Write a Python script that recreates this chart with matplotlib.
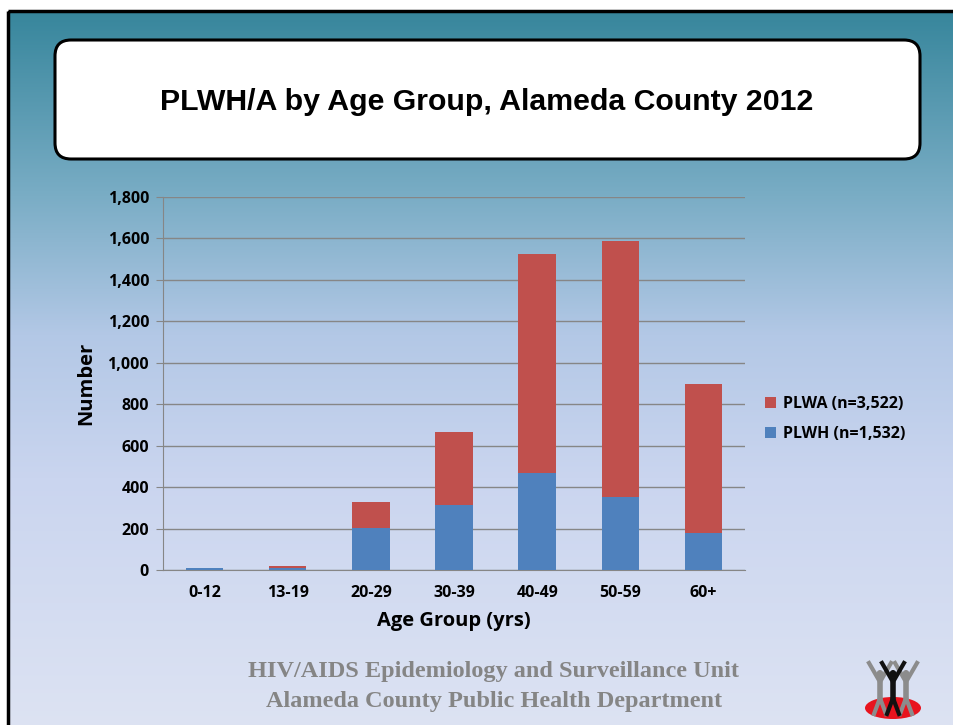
import numpy as np
import matplotlib
matplotlib.use('Agg')
import matplotlib.pyplot as plt
from matplotlib.colors import LinearSegmentedColormap
from matplotlib.patches import FancyBboxPatch, Rectangle, Ellipse
import matplotlib.ticker as ticker

# data
age_groups = ['0-12', '13-19', '20-29', '30-39', '40-49', '50-59', '60+']
plwh = [10, 12, 205, 315, 468, 352, 178]
plwa = [2, 8, 125, 352, 1055, 1238, 722]
title = 'PLWH/A by Age Group, Alameda County 2012'
footer1 = 'HIV/AIDS Epidemiology and Surveillance Unit'
footer2 = 'Alameda County Public Health Department'

W, H = 954, 725
fig = plt.figure(figsize=(W / 100, H / 100), dpi=100)
fig.patch.set_facecolor('white')

# slide background gradient
bg = fig.add_axes([0, 0, 1, 1])
bg.set_xlim(0, W)
bg.set_ylim(H, 0)
bg.axis('off')
cmap = LinearSegmentedColormap.from_list('slide', [
    (0.0, '#37869c'), (0.25, '#78acc4'), (0.45, '#b3c8e6'),
    (0.65, '#cad5ef'), (1.0, '#dde3f3')])
grad = np.linspace(0, 1, 256).reshape(-1, 1)
bg.imshow(grad, cmap=cmap, aspect='auto', extent=[8, W + 5, H + 5, 11], zorder=0)
bg.add_patch(Rectangle((8, 11), W, H, fill=False, ec='black', lw=2.5, zorder=1))

# title box
bg.add_patch(FancyBboxPatch((55, 40), 865, 119, boxstyle='round,pad=0,rounding_size=16',
                            fc='white', ec='black', lw=2.2, zorder=2))
bg.text(487, 102, title, ha='center', va='center', fontsize=21.8, fontweight='bold',
        family='Liberation Sans', zorder=3)

# footer
bg.text(494, 672, footer1, ha='center', va='center', fontsize=17.5, fontweight='bold',
        family='Liberation Serif', color='#858585', zorder=3)
bg.text(494, 702, footer2, ha='center', va='center', fontsize=17.5, fontweight='bold',
        family='Liberation Serif', color='#858585', zorder=3)

# simple logo
bg.add_patch(Ellipse((893, 708), 56, 22, fc='#e8141e', ec='none', zorder=3))
for dx, col in [(-13, '#8c8c8c'), (13, '#8c8c8c'), (0, '#111111')]:
    cx = 893 + dx
    bg.plot([cx, cx], [682, 700], color=col, lw=4, zorder=4, solid_capstyle='round')
    bg.plot([cx - 11, cx, cx + 11], [663, 682, 663], color=col, lw=3, zorder=4)
    bg.plot([cx - 6, cx, cx + 6], [714, 698, 714], color=col, lw=3, zorder=4)
    bg.add_patch(Ellipse((cx, 674), 7, 8, fc=col, ec='none', zorder=4))

# chart
ax = fig.add_axes([163 / W, 1 - 570 / H, 582 / W, 373 / H])
ax.set_facecolor('none')
x = np.arange(len(age_groups))
ax.bar(x, plwh, width=0.45, color='#4f81bd', label='PLWH (n=1,532)', zorder=3)
ax.bar(x, plwa, width=0.45, bottom=plwh, color='#c0504d', label='PLWA (n=3,522)', zorder=3)
ax.set_xlim(-0.5, 6.5)
ax.set_ylim(0, 1800)
ax.yaxis.set_major_locator(ticker.MultipleLocator(200))
ax.yaxis.set_major_formatter(ticker.StrMethodFormatter('{x:,.0f}'))
ax.grid(axis='y', color='#868686', lw=1, zorder=0)
ax.set_xticks(x)
ax.set_xticklabels(age_groups)
for s in ['top', 'right']:
    ax.spines[s].set_visible(False)
for s in ['left', 'bottom']:
    ax.spines[s].set_color('#868686')
ax.tick_params(axis='y', length=5, color='#868686', pad=5)
ax.tick_params(axis='x', length=0, pad=11)
for lab in ax.get_xticklabels() + ax.get_yticklabels():
    lab.set_fontweight('bold')
    lab.set_fontsize(11.5)
    lab.set_family('Open Sans')
ax.set_xlabel('Age Group (yrs)', fontsize=14.5, fontweight='bold', family='Open Sans', labelpad=7)
ax.set_ylabel('Number', fontsize=14.5, fontweight='bold', family='Open Sans', labelpad=8)

h, l = ax.get_legend_handles_labels()
leg = ax.legend(h[::-1], l[::-1], loc='center left', bbox_to_anchor=(1.01, 0.405),
                frameon=False, handlelength=0.7, handleheight=0.7, handletextpad=0.4,
                labelspacing=0.9, prop={'family': 'Open Sans', 'weight': 'bold', 'size': 11.5})

fig.savefig('out.png', dpi=100)
